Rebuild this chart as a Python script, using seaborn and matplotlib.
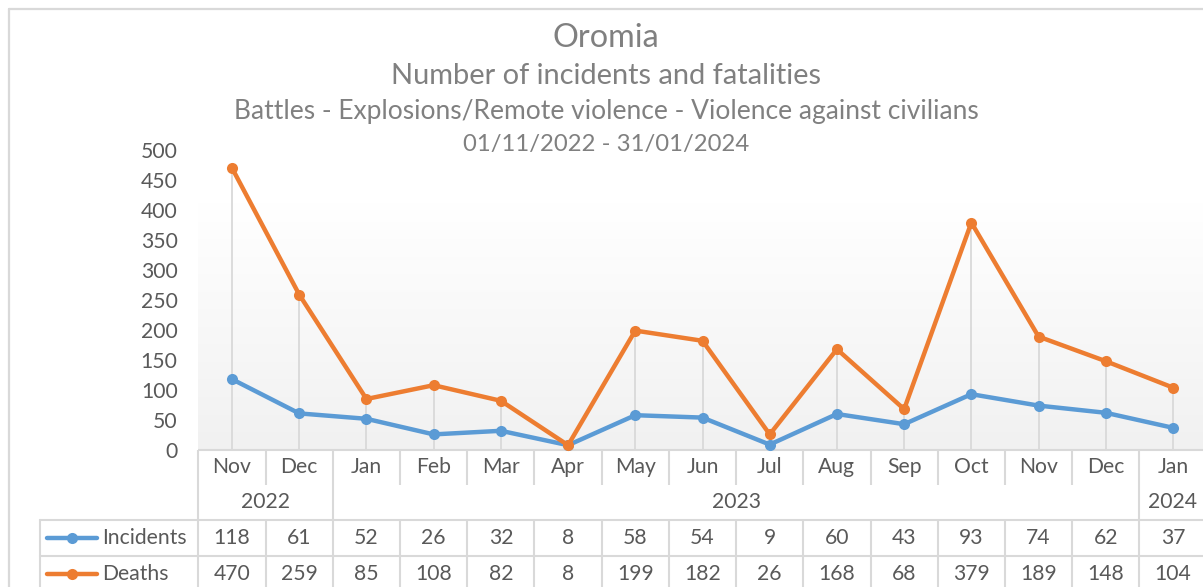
import numpy as np
import pandas as pd
import matplotlib
matplotlib.use("Agg")
import matplotlib.pyplot as plt
import seaborn as sns
from matplotlib.lines import Line2D
from matplotlib.colors import LinearSegmentedColormap
from matplotlib.transforms import blended_transform_factory

# ---------------- data ----------------
months = ["Nov", "Dec", "Jan", "Feb", "Mar", "Apr", "May", "Jun", "Jul",
          "Aug", "Sep", "Oct", "Nov", "Dec", "Jan"]
year_labels = ["2022", "2023", "2024"]
year_spans = [(0, 1), (2, 13), (14, 14)]
incidents = [118, 61, 52, 26, 32, 8, 58, 54, 9, 60, 43, 93, 74, 62, 37]
deaths = [470, 259, 85, 108, 82, 8, 199, 182, 26, 168, 68, 379, 189, 148, 104]
series_names = ["Incidents", "Deaths"]
series_colors = ["#5B9BD5", "#ED7D31"]
title_lines = ["Oromia",
               "Number of incidents and fatalities",
               "Battles - Explosions/Remote violence - Violence against civilians",
               "01/11/2022 - 31/01/2024"]
yticks = list(range(0, 501, 50))

# ---------------- style ----------------
sns.set_theme(style="white")
plt.rcParams["font.family"] = ["Lato", "DejaVu Sans"]

W, H = 1203, 587
fig = plt.figure(figsize=(W / 100, H / 100), dpi=100)
fig.patch.set_facecolor("white")

def fy(py):
    return 1 - py / H

def fx(px):
    return px / W

left_px, right_px = 198.4, 1206.6
ax = fig.add_axes([fx(left_px), fy(450), (right_px - left_px) / W, 300 / H])

n = len(months)
df = pd.DataFrame({
    "idx": list(range(n)) * 2,
    "value": incidents + deaths,
    "series": [series_names[0]] * n + [series_names[1]] * n,
})

# gradient background
cmap = LinearSegmentedColormap.from_list(
    "bg", [(0.0, "#FFFFFF"), (0.18, "#FFFFFF"), (1.0, "#F1F1F1")])
ax.imshow(np.linspace(0, 1, 256).reshape(-1, 1), cmap=cmap, aspect="auto",
          extent=(-0.5, n - 0.5, 0, 500), zorder=0)

# drop lines
tops = [max(a, b) for a, b in zip(incidents, deaths)]
ax.vlines(range(n), 0, tops, color="#D9D9D9", lw=1.3, zorder=1)

sns.lineplot(data=df, x="idx", y="value", hue="series",
             palette=dict(zip(series_names, series_colors)),
             hue_order=series_names, marker="o", markersize=8,
             markeredgewidth=0, linewidth=3.2, ax=ax, legend=False, zorder=3)
for ln in ax.lines:
    ln.set_clip_on(False)

ax.set_xlim(-0.5, n - 0.5)
ax.set_ylim(0, 500)
ax.set_xlabel("")
ax.set_ylabel("")
ax.set_xticks([])
ax.set_yticks(yticks)
for s in ax.spines.values():
    s.set_visible(False)

TXT = "#595959"
GRID = "#D9D9D9"

# fit base font size from the legend label width
probe = fig.text(0.5, 0.5, "Incidents", fontsize=12)
fig.canvas.draw()
r = fig.canvas.get_renderer()
base = 12 * 84 / probe.get_window_extent(r).width
probe.remove()

ax.set_yticklabels([str(t) for t in yticks], color=TXT, fontsize=base)
ax.tick_params(axis="y", length=0, pad=15)

# titles
title_y = [38, 76, 112, 144]
title_w = [107, 432, 747, 287]
for txt, yy, ww in zip(title_lines, title_y, title_w):
    t = fig.text(fx(606), fy(yy), txt, ha="center", va="center",
                 color="#808080", fontsize=14)
    fig.canvas.draw()
    w = t.get_window_extent(fig.canvas.get_renderer()).width
    t.set_fontsize(14 * ww / w)

# ---------------- data table ----------------
trans = blended_transform_factory(ax.transData, fig.transFigure)

def vline(xd, y0, y1):
    ax.plot([xd, xd], [fy(y0), fy(y1)], transform=trans, color=GRID,
            lw=1.5, clip_on=False, zorder=2, solid_capstyle="butt")

def hline(x0, x1, yy):
    ax.plot([x0, x1], [fy(yy), fy(yy)], transform=trans, color=GRID,
            lw=1.5, clip_on=False, zorder=2, solid_capstyle="butt")

bottom = 595
hline(-0.5, n - 0.5, 450)
hline(-0.5, n - 0.5, 520)
hline(-0.5, n - 0.5, 556)
for yy in (520, 556):
    fig.add_artist(Line2D([fx(40), fx(left_px)], [fy(yy), fy(yy)], color=GRID, lw=1.5))
fig.add_artist(Line2D([fx(40), fx(40)], [fy(520), fy(bottom)], color=GRID, lw=1.5))

year_bounds = [s for s, e in year_spans[1:]]
vline(-0.5, 450, bottom)
for i in range(n - 1):
    b = i + 0.5
    if (i + 1) in year_bounds:
        vline(b, 450, bottom)
    else:
        vline(b, 450, 485)
        vline(b, 520, bottom)
vline(n - 0.5, 450, bottom)

for i, m in enumerate(months):
    ax.text(i, fy(467), m, transform=trans, ha="center", va="center",
            color=TXT, fontsize=base)
    ax.text(i, fy(538), str(incidents[i]), transform=trans, ha="center",
            va="center", color=TXT, fontsize=base)
    ax.text(i, fy(574), str(deaths[i]), transform=trans, ha="center",
            va="center", color=TXT, fontsize=base)
for lab, (s, e) in zip(year_labels, year_spans):
    ax.text((s + e) / 2, fy(502), lab, transform=trans, ha="center",
            va="center", color=TXT, fontsize=base)

for name, col, yy in zip(series_names, series_colors, (538, 574)):
    fig.add_artist(Line2D([fx(47), fx(97)], [fy(yy), fy(yy)], color=col, lw=3.2))
    fig.add_artist(Line2D([fx(72)], [fy(yy)], color=col, marker="o",
                          markersize=8, markeredgewidth=0))
    fig.text(fx(102), fy(yy), name, ha="left", va="center", color=TXT,
             fontsize=base)

# outer chart frame
fig.add_artist(Line2D([fx(9), fx(W + 5)], [fy(9), fy(9)], color=GRID, lw=1.6))
fig.add_artist(Line2D([fx(9), fx(9)], [fy(9), fy(H + 5)], color=GRID, lw=1.6))

fig.savefig("out.png", dpi=100, facecolor="white")
